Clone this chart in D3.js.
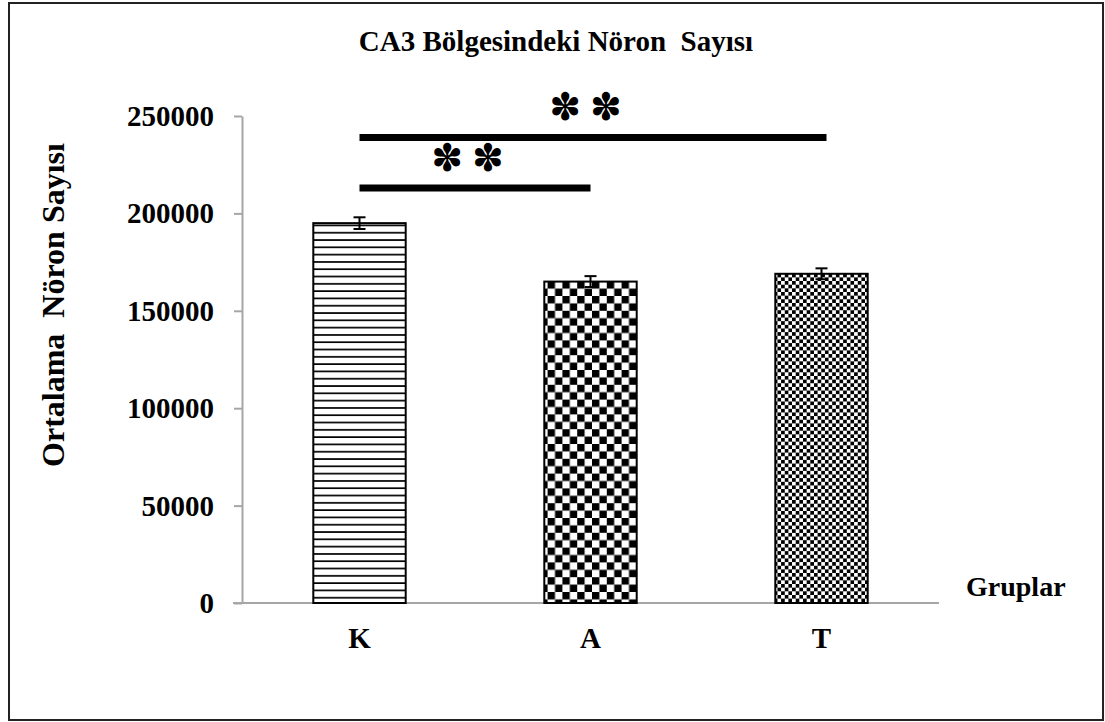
<!DOCTYPE html>
<html>
<head>
<meta charset="utf-8">
<script src="https://cdn.jsdelivr.net/npm/d3@7"></script>
<style>
  html, body { margin: 0; padding: 0; background: #fff; }
  text { font-family: "Liberation Serif", "Times New Roman", serif; font-weight: bold; fill: #000; }
</style>
</head>
<body>
<svg width="1105" height="722"></svg>
<script>
// chart values
const categories = ['K', 'A', 'T'];
const means = [195000, 165000, 169000];
const errors = [3000, 2800, 2800];
const yTicks = [0, 50000, 100000, 150000, 200000, 250000];
const patterns = ['hlines', 'bigcheck', 'smallcheck'];

// significance brackets
const bracketFrom = ['K', 'K'];
const bracketTo = ['A', 'T'];
const bracketLevel = [213000, 239000];
const bracketLabel = ['✽✽', '✽✽'];

const svg = d3.select('svg');
const defs = svg.append('defs');

// hatch patterns like the Excel fills
const hl = defs.append('pattern').attr('id', 'hlines')
  .attr('patternUnits', 'userSpaceOnUse').attr('width', 8).attr('height', 7.3);
hl.append('rect').attr('width', 8).attr('height', 7.3).attr('fill', '#fff');
hl.append('rect').attr('y', 5.6).attr('width', 8).attr('height', 1.7).attr('fill', '#000');

function checker(id, cell) {
  const p = defs.append('pattern').attr('id', id)
    .attr('patternUnits', 'userSpaceOnUse')
    .attr('width', cell * 2).attr('height', cell * 2);
  p.append('rect').attr('width', cell * 2).attr('height', cell * 2).attr('fill', '#fff');
  p.append('rect').attr('width', cell).attr('height', cell).attr('fill', '#000');
  p.append('rect').attr('x', cell).attr('y', cell).attr('width', cell).attr('height', cell).attr('fill', '#000');
}
checker('bigcheck', 7.4);
checker('smallcheck', 3.65);

// outer frame
svg.append('rect')
  .attr('x', 9).attr('y', 3).attr('width', 1094).attr('height', 717)
  .attr('fill', 'none').attr('stroke', '#222').attr('stroke-width', 2);

const x = d3.scaleBand().domain(categories).range([244, 937])
  .paddingInner(0.6).paddingOuter(0.3);
const y = d3.scaleLinear().domain([0, 250000]).range([603, 116]);

// y axis
const yAxis = svg.append('g').attr('transform', 'translate(242,0)')
  .call(d3.axisLeft(y).tickValues(yTicks).tickFormat(d3.format('d'))
    .tickSize(8).tickSizeOuter(0).tickPadding(20));
yAxis.attr('font-family', null);
yAxis.select('.domain').attr('stroke', '#a6a6a6').attr('stroke-width', 2);
yAxis.selectAll('.tick line').attr('stroke', '#a6a6a6').attr('stroke-width', 2);
yAxis.selectAll('.tick text')
  .attr('font-size', 29).attr('dy', '0.33em');

// baseline
svg.append('line')
  .attr('x1', 233).attr('x2', 939).attr('y1', y(0)).attr('y2', y(0))
  .attr('stroke', '#a6a6a6').attr('stroke-width', 2);

// bars
svg.selectAll('rect.bar').data(categories).enter().append('rect')
  .attr('class', 'bar')
  .attr('x', d => x(d))
  .attr('y', (d, i) => y(means[i]))
  .attr('width', x.bandwidth())
  .attr('height', (d, i) => y(0) - y(means[i]))
  .attr('fill', (d, i) => `url(#${patterns[i]})`)
  .attr('stroke', '#000').attr('stroke-width', 2);

// error bars
const eb = svg.selectAll('g.err').data(categories).enter().append('g')
  .attr('class', 'err')
  .attr('stroke', '#000').attr('stroke-width', 2);
eb.append('line')
  .attr('x1', d => x(d) + x.bandwidth() / 2).attr('x2', d => x(d) + x.bandwidth() / 2)
  .attr('y1', (d, i) => y(means[i] + errors[i])).attr('y2', (d, i) => y(means[i] - errors[i]));
eb.append('line')
  .attr('x1', d => x(d) + x.bandwidth() / 2 - 6).attr('x2', d => x(d) + x.bandwidth() / 2 + 6)
  .attr('y1', (d, i) => y(means[i] + errors[i])).attr('y2', (d, i) => y(means[i] + errors[i]));
eb.append('line')
  .attr('x1', d => x(d) + x.bandwidth() / 2 - 6).attr('x2', d => x(d) + x.bandwidth() / 2 + 6)
  .attr('y1', (d, i) => y(means[i] - errors[i])).attr('y2', (d, i) => y(means[i] - errors[i]));

// x labels
svg.selectAll('text.xlab').data(categories).enter().append('text')
  .attr('class', 'xlab')
  .attr('x', d => x(d) + x.bandwidth() / 2)
  .attr('y', 648)
  .attr('text-anchor', 'middle')
  .attr('font-size', 29)
  .text(d => d);

// significance brackets
const cx = d => x(d) + x.bandwidth() / 2;
bracketFrom.forEach((from, i) => {
  const x1 = cx(from);
  const x2 = cx(bracketTo[i]) + (i === 1 ? 5 : 0);
  svg.append('line')
    .attr('x1', x1).attr('x2', x2)
    .attr('y1', y(bracketLevel[i])).attr('y2', y(bracketLevel[i]))
    .attr('stroke', '#000').attr('stroke-width', 7);
  svg.append('text')
    .attr('x', (x1 + x2) / 2 - 3)
    .attr('y', y(bracketLevel[i]) - 17)
    .attr('text-anchor', 'middle')
    .attr('font-size', 38)
    .attr('letter-spacing', 9)
    .style('font-family', '"DejaVu Sans", sans-serif')
    .text(bracketLabel[i]);
});

// title
svg.append('text')
  .attr('x', 556).attr('y', 51)
  .attr('text-anchor', 'middle')
  .attr('font-size', 29)
  .style('white-space', 'pre')
  .text('CA3 Bölgesindeki Nöron  Sayısı');

// axis titles
svg.append('text')
  .attr('transform', 'translate(64,305) rotate(-90)')
  .attr('text-anchor', 'middle')
  .attr('font-size', 32)
  .style('white-space', 'pre')
  .text('Ortalama  Nöron Sayısı');

svg.append('text')
  .attr('x', 966).attr('y', 596)
  .attr('font-size', 28)
  .text('Gruplar');
</script>
</body>
</html>
